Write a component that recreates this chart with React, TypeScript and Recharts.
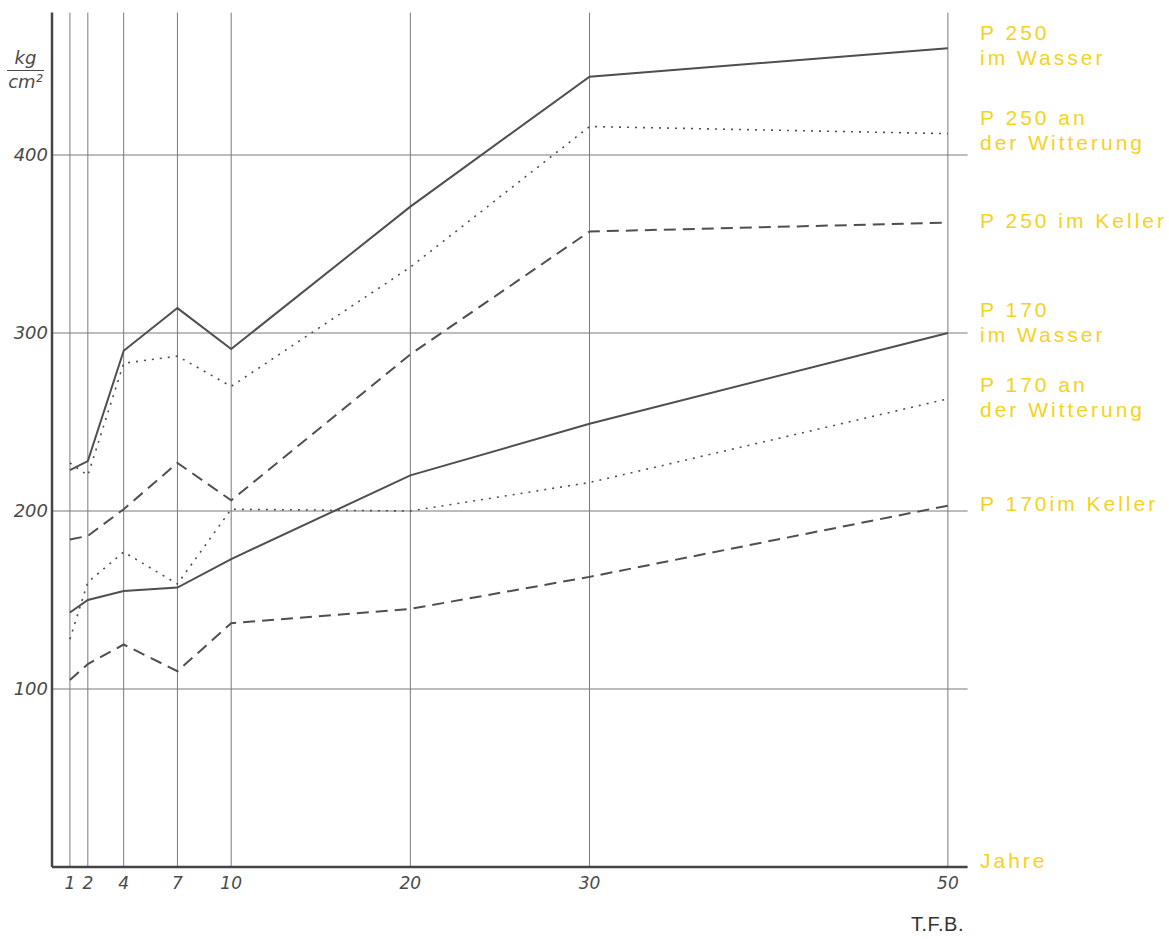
import React from 'react';
import { LineChart, Line, XAxis, YAxis, ReferenceLine } from 'recharts';

// Jahre (x) und Druckfestigkeit in kg/cm² (y)
const years = [1, 2, 4, 7, 10, 20, 30, 50];
const p250Wasser = [223, 228, 290, 314, 291, 371, 444, 460];
const p250Witterung = [227, 220, 283, 287, 270, 337, 416, 412];
const p250Keller = [184, 186, 201, 227, 206, 288, 357, 362];
const p170Wasser = [143, 150, 155, 157, 173, 220, 249, 300];
const p170Witterung = [128, 160, 177, 159, 201, 200, 216, 263];
const p170Keller = [105, 114, 125, 110, 137, 145, 163, 203];
const yTicks = [100, 200, 300, 400];

const seriesLabels = [
  { lines: ['P 250', 'im Wasser'], at: 32 },
  { lines: ['P 250 an', 'der Witterung'], at: 117 },
  { lines: ['P 250 im Keller'], at: 220 },
  { lines: ['P 170', 'im Wasser'], at: 309 },
  { lines: ['P 170 an', 'der Witterung'], at: 384 },
  { lines: ['P 170im Keller'], at: 503 },
  { lines: ['Jahre'], at: 860 },
];

const data = years.map((y, i) => ({
  year: y,
  p250Wasser: p250Wasser[i],
  p250Witterung: p250Witterung[i],
  p250Keller: p250Keller[i],
  p170Wasser: p170Wasser[i],
  p170Witterung: p170Witterung[i],
  p170Keller: p170Keller[i],
}));

const INK = '#4f4f4f';
const GRID = '#7a7a7a';
const YELLOW = '#f6d21c';
const SOLID = '';
const DASHED = '12 7';
const DOTTED = '2 6';

const series = [
  { key: 'p250Wasser', dash: SOLID },
  { key: 'p250Witterung', dash: DOTTED },
  { key: 'p250Keller', dash: DASHED },
  { key: 'p170Wasser', dash: SOLID },
  { key: 'p170Witterung', dash: DOTTED },
  { key: 'p170Keller', dash: DASHED },
];

const tickFont = {
  fontFamily: '"DejaVu Sans", sans-serif',
  fontStyle: 'italic' as const,
  fill: '#4a4a4a',
};

export default function App() {
  return (
    <div style={{ position: 'absolute', left: 0, top: 0, width: 1169, height: 939, background: '#fff' }}>
      <LineChart
        width={1169}
        height={939}
        data={data}
        margin={{ top: 12.6, right: 201.4, bottom: 0, left: 0 }}
      >
        <XAxis
          dataKey="year"
          type="number"
          domain={[0, 51.1]}
          ticks={years}
          allowDataOverflow
          height={72}
          tickSize={0}
          tickMargin={10}
          axisLine={{ stroke: '#444', strokeWidth: 2.5 }}
          tick={{ ...tickFont, fontSize: 17 }}
        />
        <YAxis
          type="number"
          domain={[0, 480]}
          ticks={yTicks}
          width={52}
          tickSize={0}
          tickMargin={4}
          axisLine={{ stroke: '#444', strokeWidth: 2.5 }}
          tick={{ ...tickFont, fontSize: 18 }}
        />
        {/* Gitter nur an den Ticks, ohne Rahmen oben/rechts */}
        {years.map((y) => (
          <ReferenceLine key={'x' + y} x={y} stroke={GRID} strokeWidth={1} />
        ))}
        {yTicks.map((v) => (
          <ReferenceLine key={'y' + v} y={v} stroke={GRID} strokeWidth={1} />
        ))}
        {series.map((s) => (
          <Line
            key={s.key}
            dataKey={s.key}
            type="linear"
            stroke={INK}
            strokeWidth={s.dash === DOTTED ? 1.6 : 2}
            strokeDasharray={s.dash || undefined}
            dot={false}
            activeDot={false}
            isAnimationActive={false}
          />
        ))}
      </LineChart>

      {/* Einheit */}
      <div
        style={{
          position: 'absolute',
          left: 7,
          top: 47,
          width: 37,
          textAlign: 'center',
          fontFamily: '"DejaVu Sans", sans-serif',
          fontStyle: 'italic',
          fontSize: 18,
          color: '#4a4a4a',
          lineHeight: '21px',
        }}
      >
        <div style={{ borderBottom: '1.5px solid #4a4a4a', paddingBottom: 2 }}>kg</div>
        <div>cm²</div>
      </div>

      {/* Reihenbeschriftungen */}
      {seriesLabels.map((l, i) => (
        <div
          key={i}
          style={{
            position: 'absolute',
            left: 980,
            top: l.at - 12.5,
            fontFamily: '"Liberation Sans", Arial, sans-serif',
            fontSize: 21,
            lineHeight: '25px',
            letterSpacing: 3,
            color: YELLOW,
            whiteSpace: 'nowrap',
          }}
        >
          {l.lines.map((t, j) => (
            <div key={j}>{t}</div>
          ))}
        </div>
      ))}

      <div
        style={{
          position: 'absolute',
          left: 911,
          top: 913,
          fontFamily: '"Liberation Sans", Arial, sans-serif',
          fontSize: 20,
          color: '#333',
          letterSpacing: 0.5,
        }}
      >
        T.F.B.
      </div>
    </div>
  );
}
